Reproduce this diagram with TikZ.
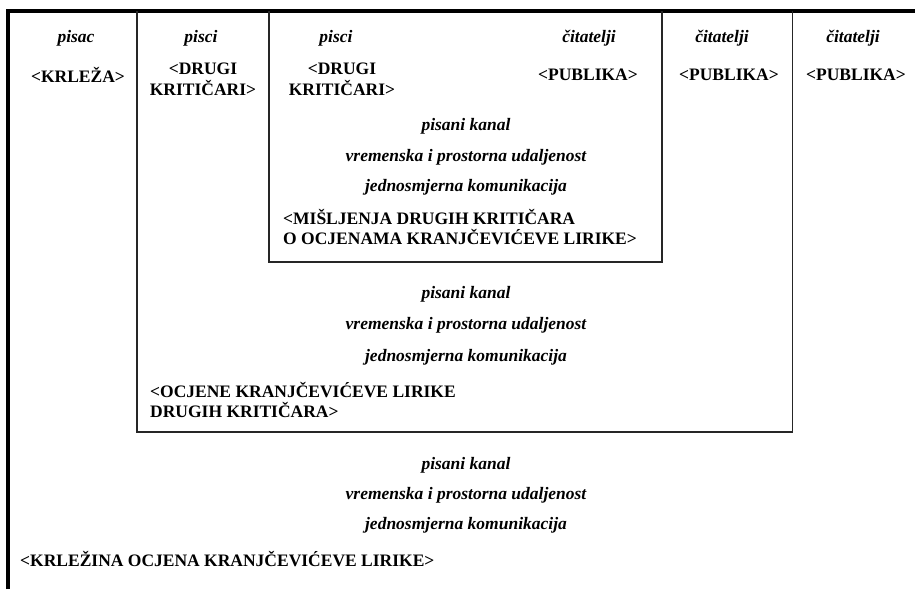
\documentclass[tikz,border=0pt]{standalone}
\usepackage{fontspec}
\setmainfont{Liberation Serif}[BoldFont={Liberation Serif Bold},BoldItalicFont={Liberation Serif Bold Italic},ItalicFont={Liberation Serif Italic}]
\begin{document}
\begin{tikzpicture}[x=1pt,y=-1pt,
  role/.style={font=\bfseries\itshape\fontsize{17.5}{20}\selectfont, inner sep=0pt, anchor=center},
  who/.style={font=\bfseries\fontsize{17.5}{21}\selectfont, inner sep=0pt, align=center, anchor=center},
  msg/.style={font=\bfseries\fontsize{17.5}{20.5}\selectfont, inner sep=0pt, align=left, anchor=west},
  frame/.style={line width=1.4pt, draw=black!85},
  outer/.style={line width=3.7pt, draw=black}]
\useasboundingbox (0,0) rectangle (915,589);
\clip (0,0) rectangle (915,589);
% frames
\draw[outer] (8,589) -- (8,11) -- (915,11);
\draw[frame] (137,11) -- (137,432) -- (792.5,432) -- (792.5,11);
\draw[frame] (269,11) -- (269,262) -- (662,262) -- (662,11);
% top row
\node[role] (r1) at (76,38) {pisac};
\node[role] (r2) at (201,38) {pisci};
\node[role] (r3) at (336,38) {pisci};
\node[role] (r4) at (589,38) {čitatelji};
\node[role] (r5) at (722,38) {čitatelji};
\node[role] (r6) at (853,38) {čitatelji};
\node[who] (w1) at (78,75) {<KRLEŽA>};
\node[who] (w2) at (203,79) {<DRUGI\\KRITIČARI>};
\node[who] (w3) at (342,79) {<DRUGI\\KRITIČARI>};
\node[who] (w4) at (588,75) {<PUBLIKA>};
\node[who] (w5) at (729,75) {<PUBLIKA>};
\node[who] (w6) at (856,75) {<PUBLIKA>};
% inner box
\node[role] (a1) at (466,126) {pisani kanal};
\node[role] (a2) at (466,157) {vremenska i prostorna udaljenost};
\node[role] (a3) at (466,187) {jednosmjerna komunikacija};
\node[msg] (a4) at (283,227) {<MIŠLJENJA DRUGIH KRITIČARA\\O OCJENAMA KRANJČEVIĆEVE LIRIKE>};
% middle box
\node[role] (b1) at (466,294) {pisani kanal};
\node[role] (b2) at (466,325) {vremenska i prostorna udaljenost};
\node[role] (b3) at (466,357) {jednosmjerna komunikacija};
\node[msg] (b4) at (150,400) {<OCJENE KRANJČEVIĆEVE LIRIKE\\DRUGIH KRITIČARA>};
% outer
\node[role] (c1) at (466,465) {pisani kanal};
\node[role] (c2) at (466,495) {vremenska i prostorna udaljenost};
\node[role] (c3) at (466,525) {jednosmjerna komunikacija};
\node[msg] (c4) at (20,559) {<KRLEŽINA OCJENA KRANJČEVIĆEVE LIRIKE>};
\end{tikzpicture}
\end{document}
